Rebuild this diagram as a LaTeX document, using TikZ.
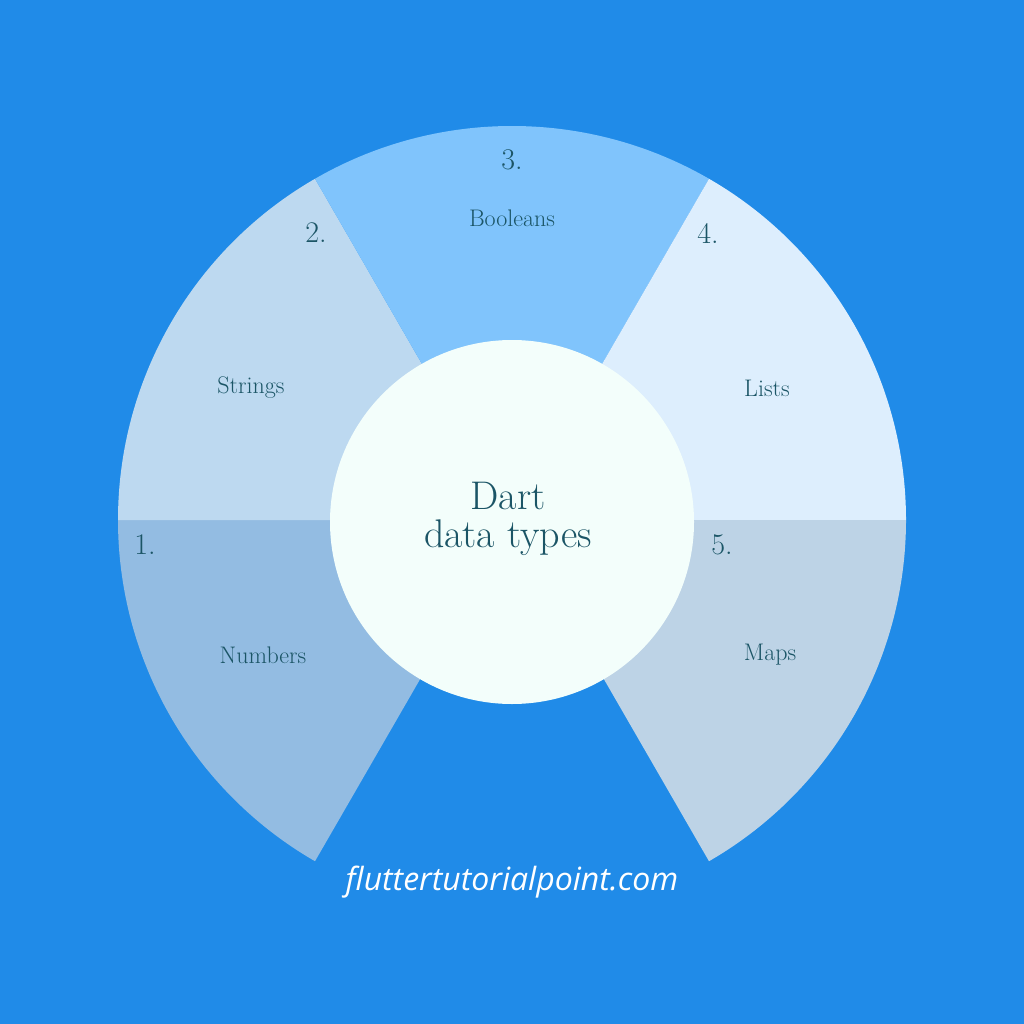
\documentclass[tikz,border=0pt]{standalone}
\usepackage{fontspec}
\newfontfamily\footfont{Open Sans}
\definecolor{bg}{HTML}{208BE8}
\definecolor{cA}{HTML}{93BCE2}
\definecolor{cB}{HTML}{BDD9F0}
\definecolor{cC}{HTML}{80C4FC}
\definecolor{cD}{HTML}{DDEEFD}
\definecolor{cE}{HTML}{BDD3E6}
\definecolor{cin}{HTML}{F3FEFB}
\definecolor{tx}{HTML}{1B5566}
\begin{document}
\begin{tikzpicture}[x=1pt,y=-1pt,
 num/.style={text=tx,font=\fontsize{30}{32}\selectfont},
 lab/.style={text=tx,font=\fontsize{24}{26}\selectfont}]
\fill[bg] (0,0) rectangle (1024,1024);
\coordinate (c) at (512,520);
\fill[cA] (c) -- ++(180:394) arc[start angle=180,end angle=120,radius=394] -- cycle;
\fill[cB] (c) -- ++(-180:394) arc[start angle=-180,end angle=-120,radius=394] -- cycle;
\fill[cC] (c) -- ++(-120:394) arc[start angle=-120,end angle=-60,radius=394] -- cycle;
\fill[cD] (c) -- ++(-60:394) arc[start angle=-60,end angle=0,radius=394] -- cycle;
\fill[cE] (c) -- ++(0:394) arc[start angle=0,end angle=60,radius=394] -- cycle;
\node[circle,fill=cin,minimum size=364pt,inner sep=0pt] (in) at (512,522) {};
\node[text=tx,font=\fontsize{40}{42}\selectfont,align=center] (t) at (508,519) {Dart\\[-4pt]data types};
\node[num] (n3) at (512,160) {3.};
\node[lab] (l3) at (512,218) {Booleans};
\node[num] (n2) at (316,233) {2.};
\node[lab] (l2) at (251,388) {Strings};
\node[num] (n4) at (708,233) {4.};
\node[lab] (l4) at (767,388) {Lists};
\node[num] (n1) at (145,545) {1.};
\node[lab] (l1) at (263,655) {Numbers};
\node[num] (n5) at (722,545) {5.};
\node[lab] (l5) at (770,655) {Maps};
\node[text=white,font=\footfont\itshape\fontsize{32}{34}\selectfont] (f) at (512,882) {fluttertutorialpoint.com};
\end{tikzpicture}
\end{document}
